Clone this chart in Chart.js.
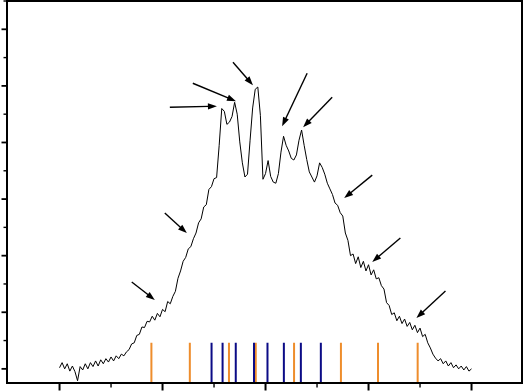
<!DOCTYPE html>
<html>
<head>
<meta charset="utf-8">
<script src="https://cdn.jsdelivr.net/npm/chart.js@4/dist/chart.umd.min.js"></script>
<style>
  html, body { margin: 0; padding: 0; background: #fff; }
  canvas { display: block; }
</style>
</head>
<body>
<canvas id="c" width="523" height="392"></canvas>
<script>
// ---- data (arbitrary units: x major tick = 100, y major tick = 100) ----
const xStart = -200;
const xStep = 2.5;
const intensity = [
  2, 11, 0, 9, -4, 5, -5, -21, 4, -2,
  9, 0, 11, 4, 14, 5, 16, 9, 18, 12,
  21, 14, 23, 18, 26, 23, 30, 34, 44, 46,
  59, 61, 74, 73, 84, 83, 93, 86, 98, 92,
  105, 101, 119, 115, 128, 137, 160, 173, 190, 197,
  212, 216, 230, 240, 258, 265, 286, 290, 317, 322,
  336, 338, 395, 460, 455, 432, 436, 446, 471, 450,
  401, 364, 339, 344, 404, 461, 494, 498, 448, 335,
  345, 368, 340, 330, 328, 345, 383, 411, 395, 385,
  372, 369, 378, 404, 422, 395, 370, 348, 339, 330,
  341, 364, 356, 344, 328, 318, 308, 293, 289, 276,
  270, 240, 227, 200, 203, 186, 198, 179, 190, 173,
  184, 166, 175, 159, 161, 147, 141, 117, 112, 96,
  99, 85, 93, 80, 88, 75, 82, 69, 77, 64,
  72, 57, 61, 46, 37, 26, 19, 14, 18, 9,
  14, 5, 11, 2, 7, 0, 5, -2, 4, -4,
  0
];
const orangeLines = [-110.8, -73.5, -35.5, -9.5, 27.7, 73.2, 109.2, 147.7];
const navyLines   = [-52.4, -41.7, -28.9, -11.2, 1.9, 17.8, 34.3, 53.7];
const stickTop = 46;
// arrows: [tailX, tailY, headX, headY]
const arrows = [
  [-129.9, 153.5, -107.5, 121.7],
  [-97.8, 275.3, -76.4, 239.9],
  [-92.9, 462.3, -47.2, 464.1],
  [-70.6, 504.7, -28.7, 472.9],
  [-31.6, 541.8, -12.2, 501.2],
  [40.4, 522.4, 16.1, 428.8],
  [64.7, 480.0, 36.5, 427.0],
  [103.6, 342.3, 76.4, 301.7],
  [130.9, 231.1, 103.6, 188.8],
  [174.7, 137.6, 146.5, 89.9]
];
const xMajorTicks = [-200, -100, 0, 100, 200];
const xMinorTicks = [-150, -50, 50, 150];
const yMajorTicks = [0, 100, 200, 300, 400, 500, 600];
const yMinorTicks = [50, 150, 250, 350, 450, 550, 650];
const xMin = -251, xMax = 249, yMin = -25, yMax = 650;

// ---- build datasets ----
const spectrum = intensity.map((v, i) => ({ x: xStart + i * xStep, y: v }));
function sticks(list) {
  const out = [];
  list.forEach(v => {
    out.push({ x: v, y: yMin }, { x: v, y: stickTop }, { x: v, y: null });
  });
  return out;
}

const framePlugin = {
  id: 'frame',
  afterDatasetsDraw(chart) {
    const { ctx, chartArea: a, scales: { x, y } } = chart;
    ctx.save();
    // arrows
    ctx.strokeStyle = '#000';
    ctx.fillStyle = '#000';
    ctx.lineWidth = 1.4;
    arrows.forEach(([x0, y0, x1, y1]) => {
      const X0 = x.getPixelForValue(x0), Y0 = y.getPixelForValue(y0);
      const X1 = x.getPixelForValue(x1), Y1 = y.getPixelForValue(y1);
      const ang = Math.atan2(Y1 - Y0, X1 - X0);
      const L = 9, W = 3.2;
      const c = Math.cos(ang), s = Math.sin(ang);
      const bx = X1 - L * c, by = Y1 - L * s;
      ctx.beginPath(); ctx.moveTo(X0, Y0); ctx.lineTo(bx + 1 * c, by + 1 * s); ctx.stroke();
      ctx.beginPath();
      ctx.moveTo(X1, Y1);
      ctx.lineTo(bx - W * s, by + W * c);
      ctx.lineTo(bx + W * s, by - W * c);
      ctx.closePath(); ctx.fill();
    });
    // frame
    ctx.lineWidth = 2;
    ctx.strokeRect(a.left, a.top, a.right - a.left, a.bottom - a.top);
    // x ticks (outward, below)
    xMajorTicks.forEach(v => {
      const p = x.getPixelForValue(v);
      ctx.lineWidth = 2;
      ctx.beginPath(); ctx.moveTo(p, a.bottom); ctx.lineTo(p, a.bottom + 7.5); ctx.stroke();
    });
    xMinorTicks.forEach(v => {
      const p = x.getPixelForValue(v);
      ctx.lineWidth = 1.4;
      ctx.beginPath(); ctx.moveTo(p, a.bottom); ctx.lineTo(p, a.bottom + 4.5); ctx.stroke();
    });
    // y ticks (outward, left)
    yMajorTicks.forEach(v => {
      const p = y.getPixelForValue(v);
      ctx.lineWidth = 1.8;
      ctx.beginPath(); ctx.moveTo(a.left, p); ctx.lineTo(a.left - 5.5, p); ctx.stroke();
    });
    yMinorTicks.forEach(v => {
      const p = y.getPixelForValue(v);
      ctx.lineWidth = 1.4;
      ctx.beginPath(); ctx.moveTo(a.left, p); ctx.lineTo(a.left - 3.5, p); ctx.stroke();
    });
    ctx.restore();
  }
};

new Chart(document.getElementById('c'), {
  type: 'line',
  data: {
    datasets: [
      { data: sticks(orangeLines), borderColor: '#EE8D2C', borderWidth: 2, pointRadius: 0, spanGaps: false, order: 3 },
      { data: sticks(navyLines), borderColor: '#0B0B86', borderWidth: 2, pointRadius: 0, spanGaps: false, order: 2 },
      { data: spectrum, borderColor: '#000', borderWidth: 1, pointRadius: 0, tension: 0, order: 1 }
    ]
  },
  options: {
    responsive: false,
    animation: false,
    devicePixelRatio: 1,
    layout: { padding: { left: 7, top: 1, right: 1, bottom: 9 } },
    plugins: { legend: { display: false }, tooltip: { enabled: false } },
    scales: {
      x: { type: 'linear', display: false, min: xMin, max: xMax },
      y: { type: 'linear', display: false, min: yMin, max: yMax }
    }
  },
  plugins: [framePlugin]
});
</script>
</body>
</html>
